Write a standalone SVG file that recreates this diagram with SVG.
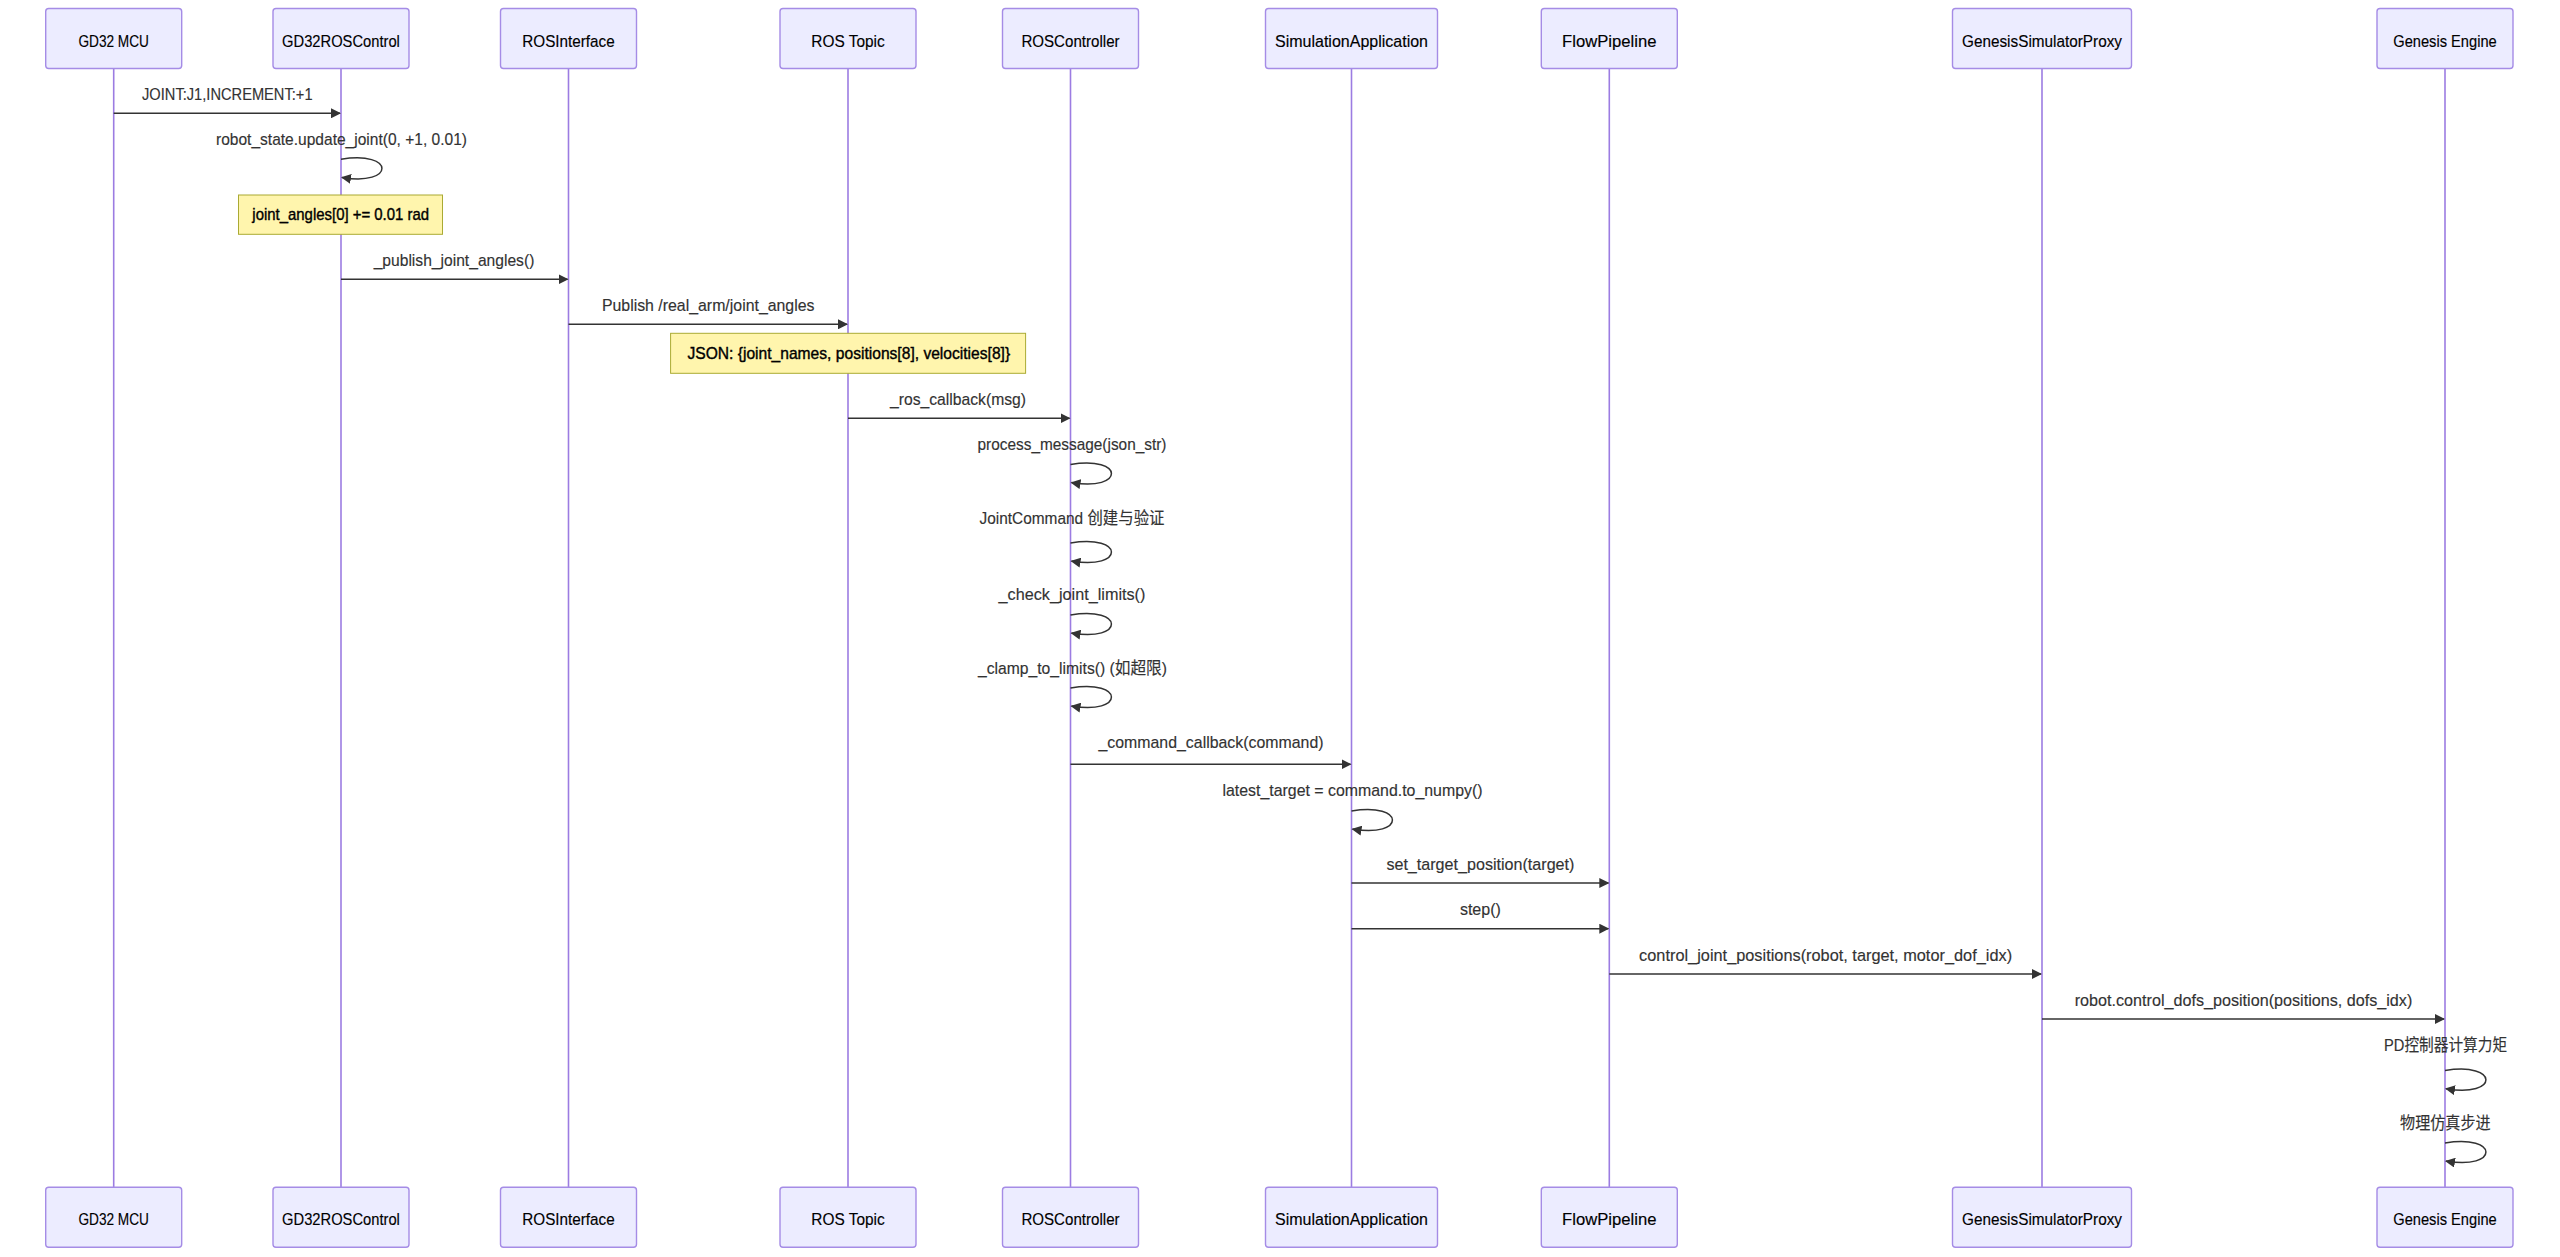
<svg xmlns="http://www.w3.org/2000/svg" width="2560" height="1257" viewBox="0 0 2560 1257">
<style>
text{font-family:"Liberation Sans","Noto Sans CJK SC",sans-serif;font-size:17px;}
.actor rect{fill:#ECECFF;stroke:#a58ce6;stroke-width:1.4;}
.actor text{fill:#000;text-anchor:middle;stroke:#000;stroke-width:0.15;}
.lifeline{stroke:#9c7ce2;stroke-width:1.6;}
.msg{stroke:#333;stroke-width:1.5;fill:none;}
.mt{fill:#333;text-anchor:middle;stroke:#333;stroke-width:0.15;}
.note rect{fill:#fff5ad;stroke:#aaaa33;stroke-width:1;}
.note text{fill:#000;text-anchor:middle;stroke:#000;stroke-width:0.4;}
</style>
<defs>
<marker id="ah" viewBox="0 0 10 10" markerUnits="userSpaceOnUse" markerWidth="10" markerHeight="10" refX="9" refY="5" orient="auto">
<path d="M0,0 L10,5 L0,10 z" fill="#333"/>
</marker>
</defs>
<rect width="2560" height="1257" fill="#fff"/>
<g id="lifelines">
<line class="lifeline" x1="113.7" y1="68.5" x2="113.7" y2="1187.3"/>
<line class="lifeline" x1="341" y1="68.5" x2="341" y2="1187.3"/>
<line class="lifeline" x1="568.5" y1="68.5" x2="568.5" y2="1187.3"/>
<line class="lifeline" x1="848" y1="68.5" x2="848" y2="1187.3"/>
<line class="lifeline" x1="1070.5" y1="68.5" x2="1070.5" y2="1187.3"/>
<line class="lifeline" x1="1351.5" y1="68.5" x2="1351.5" y2="1187.3"/>
<line class="lifeline" x1="1609.3" y1="68.5" x2="1609.3" y2="1187.3"/>
<line class="lifeline" x1="2042" y1="68.5" x2="2042" y2="1187.3"/>
<line class="lifeline" x1="2445" y1="68.5" x2="2445" y2="1187.3"/>
</g>
<g id="gd32mcu" class="actor">
<rect x="45.7" y="8.5" width="136" height="60" rx="3"/><text x="113.7" y="46.5" textLength="70.6" lengthAdjust="spacingAndGlyphs">GD32 MCU</text>
<rect x="45.7" y="1187.3" width="136" height="60" rx="3"/><text x="113.7" y="1225.3" textLength="70.6" lengthAdjust="spacingAndGlyphs">GD32 MCU</text>
</g>
<g id="gd32roscontrol" class="actor">
<rect x="273" y="8.5" width="136" height="60" rx="3"/><text x="341" y="46.5" textLength="117.8" lengthAdjust="spacingAndGlyphs">GD32ROSControl</text>
<rect x="273" y="1187.3" width="136" height="60" rx="3"/><text x="341" y="1225.3" textLength="117.8" lengthAdjust="spacingAndGlyphs">GD32ROSControl</text>
</g>
<g id="rosinterface" class="actor">
<rect x="500.5" y="8.5" width="136" height="60" rx="3"/><text x="568.5" y="46.5" textLength="92.4" lengthAdjust="spacingAndGlyphs">ROSInterface</text>
<rect x="500.5" y="1187.3" width="136" height="60" rx="3"/><text x="568.5" y="1225.3" textLength="92.4" lengthAdjust="spacingAndGlyphs">ROSInterface</text>
</g>
<g id="rostopic" class="actor">
<rect x="780" y="8.5" width="136" height="60" rx="3"/><text x="848" y="46.5" textLength="73.4" lengthAdjust="spacingAndGlyphs">ROS Topic</text>
<rect x="780" y="1187.3" width="136" height="60" rx="3"/><text x="848" y="1225.3" textLength="73.4" lengthAdjust="spacingAndGlyphs">ROS Topic</text>
</g>
<g id="roscontroller" class="actor">
<rect x="1002.5" y="8.5" width="136" height="60" rx="3"/><text x="1070.5" y="46.5" textLength="98.2" lengthAdjust="spacingAndGlyphs">ROSController</text>
<rect x="1002.5" y="1187.3" width="136" height="60" rx="3"/><text x="1070.5" y="1225.3" textLength="98.2" lengthAdjust="spacingAndGlyphs">ROSController</text>
</g>
<g id="simulationapplication" class="actor">
<rect x="1265.5" y="8.5" width="172" height="60" rx="3"/><text x="1351.5" y="46.5" textLength="153" lengthAdjust="spacingAndGlyphs">SimulationApplication</text>
<rect x="1265.5" y="1187.3" width="172" height="60" rx="3"/><text x="1351.5" y="1225.3" textLength="153" lengthAdjust="spacingAndGlyphs">SimulationApplication</text>
</g>
<g id="flowpipeline" class="actor">
<rect x="1541.3" y="8.5" width="136" height="60" rx="3"/><text x="1609.3" y="46.5" textLength="94.4" lengthAdjust="spacingAndGlyphs">FlowPipeline</text>
<rect x="1541.3" y="1187.3" width="136" height="60" rx="3"/><text x="1609.3" y="1225.3" textLength="94.4" lengthAdjust="spacingAndGlyphs">FlowPipeline</text>
</g>
<g id="genesissimulatorproxy" class="actor">
<rect x="1952.5" y="8.5" width="179" height="60" rx="3"/><text x="2042" y="46.5" textLength="160" lengthAdjust="spacingAndGlyphs">GenesisSimulatorProxy</text>
<rect x="1952.5" y="1187.3" width="179" height="60" rx="3"/><text x="2042" y="1225.3" textLength="160" lengthAdjust="spacingAndGlyphs">GenesisSimulatorProxy</text>
</g>
<g id="genesisengine" class="actor">
<rect x="2377" y="8.5" width="136" height="60" rx="3"/><text x="2445" y="46.5" textLength="103.5" lengthAdjust="spacingAndGlyphs">Genesis Engine</text>
<rect x="2377" y="1187.3" width="136" height="60" rx="3"/><text x="2445" y="1225.3" textLength="103.5" lengthAdjust="spacingAndGlyphs">Genesis Engine</text>
</g>
<g id="note1" class="note">
<rect x="238.5" y="195" width="204" height="39.3"/>
<text x="340.7" y="219.8" textLength="176.7" lengthAdjust="spacingAndGlyphs">joint_angles[0] += 0.01 rad</text>
</g>
<g id="note2" class="note">
<rect x="670.6" y="333.3" width="355" height="40"/>
<text x="848.8" y="358.8" textLength="322.7" lengthAdjust="spacingAndGlyphs">JSON: {joint_names, positions[8], velocities[8]}</text>
</g>
<g id="connectors">
<line class="msg" x1="113.7" y1="113.3" x2="340" y2="113.3" marker-end="url(#ah)"/>
<text class="mt" x="227.3" y="99.8" textLength="170.5" lengthAdjust="spacingAndGlyphs">JOINT:J1,INCREMENT:+1</text>
<path class="msg" d="M341,159.3 C395.4,150.3 395.4,186.5 342,177.4" marker-end="url(#ah)"/>
<text class="mt" x="341.5" y="145" textLength="251" lengthAdjust="spacingAndGlyphs">robot_state.update_joint(0, +1, 0.01)</text>
<line class="msg" x1="341" y1="279.3" x2="567.5" y2="279.3" marker-end="url(#ah)"/>
<text class="mt" x="454" y="265.5" textLength="160.7" lengthAdjust="spacingAndGlyphs">_publish_joint_angles()</text>
<line class="msg" x1="568.5" y1="324.3" x2="847" y2="324.3" marker-end="url(#ah)"/>
<text class="mt" x="708.2" y="310.8" textLength="212.6" lengthAdjust="spacingAndGlyphs">Publish /real_arm/joint_angles</text>
<line class="msg" x1="848" y1="418.3" x2="1069.5" y2="418.3" marker-end="url(#ah)"/>
<text class="mt" x="958" y="404.8" textLength="136" lengthAdjust="spacingAndGlyphs">_ros_callback(msg)</text>
<path class="msg" d="M1070.5,464.5 C1124.9,455.5 1124.9,491.7 1071.5,482.6" marker-end="url(#ah)"/>
<text class="mt" x="1072" y="450" textLength="189" lengthAdjust="spacingAndGlyphs">process_message(json_str)</text>
<path class="msg" d="M1070.5,543 C1124.9,534 1124.9,570.2 1071.5,561.1" marker-end="url(#ah)"/>
<text class="mt" x="1072" y="523.5" textLength="185" lengthAdjust="spacingAndGlyphs">JointCommand 创建与验证</text>
<path class="msg" d="M1070.5,615 C1124.9,606 1124.9,642.2 1071.5,633.1" marker-end="url(#ah)"/>
<text class="mt" x="1072" y="600" textLength="146.8" lengthAdjust="spacingAndGlyphs">_check_joint_limits()</text>
<path class="msg" d="M1070.5,688 C1124.9,679 1124.9,715.2 1071.5,706.1" marker-end="url(#ah)"/>
<text class="mt" x="1072.5" y="673.5" textLength="189" lengthAdjust="spacingAndGlyphs">_clamp_to_limits() (如超限)</text>
<line class="msg" x1="1070.5" y1="764.3" x2="1350.5" y2="764.3" marker-end="url(#ah)"/>
<text class="mt" x="1211" y="747.5" textLength="225" lengthAdjust="spacingAndGlyphs">_command_callback(command)</text>
<path class="msg" d="M1351.5,811 C1405.9,802 1405.9,838.2 1352.5,829.1" marker-end="url(#ah)"/>
<text class="mt" x="1352.5" y="796" textLength="260" lengthAdjust="spacingAndGlyphs">latest_target = command.to_numpy()</text>
<line class="msg" x1="1351.5" y1="883" x2="1608.3" y2="883" marker-end="url(#ah)"/>
<text class="mt" x="1480.4" y="869.5" textLength="188" lengthAdjust="spacingAndGlyphs">set_target_position(target)</text>
<line class="msg" x1="1351.5" y1="928.7" x2="1608.3" y2="928.7" marker-end="url(#ah)"/>
<text class="mt" x="1480.4" y="915.2" textLength="41" lengthAdjust="spacingAndGlyphs">step()</text>
<line class="msg" x1="1609.3" y1="974" x2="2041" y2="974" marker-end="url(#ah)"/>
<text class="mt" x="1825.6" y="960.5" textLength="373" lengthAdjust="spacingAndGlyphs">control_joint_positions(robot, target, motor_dof_idx)</text>
<line class="msg" x1="2042" y1="1019" x2="2444" y2="1019" marker-end="url(#ah)"/>
<text class="mt" x="2243.5" y="1005.5" textLength="337.6" lengthAdjust="spacingAndGlyphs">robot.control_dofs_position(positions, dofs_idx)</text>
<path class="msg" d="M2445,1070.6 C2499.4,1061.6 2499.4,1097.8 2446,1088.7" marker-end="url(#ah)"/>
<text class="mt" x="2445.6" y="1051" textLength="123" lengthAdjust="spacingAndGlyphs">PD控制器计算力矩</text>
<path class="msg" d="M2445,1143 C2499.4,1134 2499.4,1170.2 2446,1161.1" marker-end="url(#ah)"/>
<text class="mt" x="2445.3" y="1129" textLength="90.5" lengthAdjust="spacingAndGlyphs">物理仿真步进</text>
</g>
</svg>
